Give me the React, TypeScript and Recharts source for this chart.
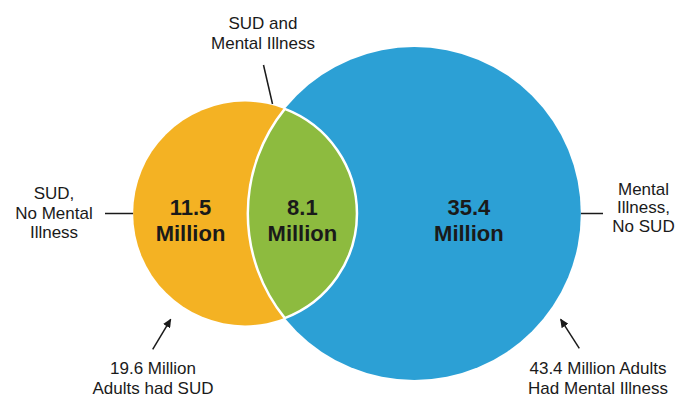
import React from 'react';
import { ScatterChart, Scatter, XAxis, YAxis, ZAxis } from 'recharts';

// ---- data ----
const setNames = ['SUD', 'Mental Illness'];
const setTotals = [19.6, 43.4]; // millions of adults
const regionNames = ['SUD, No Mental Illness', 'SUD and Mental Illness', 'Mental Illness, No SUD'];
const regionValues = [11.5, 8.1, 35.4]; // millions
const regionValueLabels = ['11.5', '8.1', '35.4'];
const regionUnit = 'Million';
const setCaptions = [
  ['19.6 Million', 'Adults had SUD'],
  ['43.4 Million Adults', 'Had Mental Illness'],
];
const regionCaptions = [
  ['SUD,', 'No Mental', 'Illness'],
  ['SUD and', 'Mental Illness'],
  ['Mental', 'Illness,', 'No SUD'],
];

// ---- styles / layout ----
const W = 686;
const H = 400;
const COLORS = { sud: '#F4B223', both: '#8DBB3F', mi: '#2CA0D5' };
const FONT = '"Liberation Sans", Arial, Helvetica, sans-serif';
const TEXT = '#1a1a1a';
const MAX_RADIUS_PX = 166.5; // radius of largest set
const PAIR_CENTER = { x: 357, y: 213.5 };

// geometry derived from values (area-proportional Venn)
const maxTotal = Math.max(...setTotals);
const rOf = (v: number) => MAX_RADIUS_PX * Math.sqrt(v / maxTotal);
const r1 = rOf(setTotals[0]);
const r2 = rOf(setTotals[1]);
function lensArea(a: number, b: number, d: number) {
  if (d >= a + b) return 0;
  if (d <= Math.abs(a - b)) return Math.PI * Math.min(a, b) ** 2;
  const t1 = a * a * Math.acos((d * d + a * a - b * b) / (2 * d * a));
  const t2 = b * b * Math.acos((d * d + b * b - a * a) / (2 * d * b));
  const t3 = 0.5 * Math.sqrt((-d + a + b) * (d + a - b) * (d - a + b) * (d + a + b));
  return t1 + t2 - t3;
}
const targetLens = (regionValues[1] / setTotals[1]) * Math.PI * r2 * r2;
let lo = Math.abs(r1 - r2);
let hi = r1 + r2;
for (let i = 0; i < 80; i++) {
  const mid = (lo + hi) / 2;
  if (lensArea(r1, r2, mid) > targetLens) lo = mid;
  else hi = mid;
}
const dist = (lo + hi) / 2;
const totalWidth = r1 + dist + r2;
const leftEdge = PAIR_CENTER.x - totalWidth / 2;
const c1x = leftEdge + r1;
const c2x = c1x + dist;
const cy = PAIR_CENTER.y;
const chordOffset = (dist * dist + r1 * r1 - r2 * r2) / (2 * dist);
const chordX = c1x + chordOffset;
const chordHalf = Math.sqrt(r1 * r1 - chordOffset * chordOffset);
const lensLeft = c2x - r2;
const lensRight = c1x + r1;

const sudData = [{ x: c1x, y: cy, z: setTotals[0], name: setNames[0] }];
const miData = [{ x: c2x, y: cy, z: setTotals[1], name: setNames[1] }];
const lensData = [{ x: chordX, y: cy, z: regionValues[1], name: regionNames[1] }];
const labelData = [
  { x: (leftEdge + lensLeft) / 2, y: cy, z: regionValues[0], label: regionValueLabels[0] },
  { x: (lensLeft + lensRight) / 2, y: cy, z: regionValues[1], label: regionValueLabels[1] },
  { x: (lensRight + c2x + r2) / 2, y: cy, z: regionValues[2], label: regionValueLabels[2] },
];

const circleShape = (color: string) => (p: any) => (
  <circle cx={p.cx} cy={p.cy} r={p.width / 2} fill={color} />
);

const lensShape = (p: any) => {
  const top = { x: p.cx, y: p.cy - chordHalf };
  const bot = { x: p.cx, y: p.cy + chordHalf };
  const d = `M${top.x},${top.y} A${r1},${r1} 0 0 1 ${bot.x},${bot.y} A${r2},${r2} 0 0 1 ${top.x},${top.y} Z`;
  return <path d={d} fill={COLORS.both} stroke="#ffffff" strokeWidth={2.5} />;
};

const valueLabelShape = (p: any) => (
  <text
    x={p.cx}
    y={p.cy}
    textAnchor="middle"
    fontFamily={FONT}
    fontWeight="bold"
    fontSize={22}
    fill={TEXT}
  >
    <tspan x={p.cx} y={p.cy + 1}>{p.payload.label}</tspan>
    <tspan x={p.cx} y={p.cy + 27.5}>{regionUnit}</tspan>
  </text>
);

const MultiText = ({ x, y, lines, lh }: { x: number; y: number; lines: string[]; lh: number }) => (
  <text textAnchor="middle" fontFamily={FONT} fontSize={17} fill={TEXT}>
    {lines.map((l, i) => (
      <tspan key={i} x={x} y={y + i * lh}>{l}</tspan>
    ))}
  </text>
);

export default function App() {
  return (
    <div style={{ width: W, height: H, background: '#fff' }}>
      <style>{`body{margin:0;background:#fff}`}</style>
      <ScatterChart width={W} height={H} margin={{ top: 0, right: 0, bottom: 0, left: 0 }}>
        <XAxis type="number" dataKey="x" domain={[0, W]} hide height={0} />
        <YAxis type="number" dataKey="y" domain={[0, H]} reversed hide width={0} />
        <ZAxis type="number" dataKey="z" domain={[0, maxTotal]} range={[0, Math.PI * MAX_RADIUS_PX * MAX_RADIUS_PX]} />
        <Scatter data={sudData} shape={circleShape(COLORS.sud)} isAnimationActive={false} />
        <Scatter data={miData} shape={circleShape(COLORS.mi)} isAnimationActive={false} />
        <Scatter data={lensData} shape={lensShape} isAnimationActive={false} />
        <Scatter data={labelData} shape={valueLabelShape} isAnimationActive={false} />
        <defs>
          <marker id="arrowHead" markerWidth="9" markerHeight="8" refX="8" refY="4" orient="auto" markerUnits="userSpaceOnUse">
            <path d="M0,0 L9,4 L0,8 z" fill={TEXT} />
          </marker>
        </defs>
        <g>
          {/* SUD and Mental Illness */}
          <MultiText x={263} y={29} lines={regionCaptions[1]} lh={19.5} />
          <line x1={263.5} y1={65} x2={272.5} y2={104} stroke={TEXT} strokeWidth={1.5} />
          {/* SUD, No Mental Illness */}
          <MultiText x={54} y={199} lines={regionCaptions[0]} lh={19.7} />
          <line x1={105} y1={cy} x2={leftEdge} y2={cy} stroke={TEXT} strokeWidth={1.5} />
          {/* Mental Illness, No SUD */}
          <MultiText x={643.5} y={195} lines={regionCaptions[2]} lh={18.4} />
          <line x1={c2x + r2} y1={cy} x2={603} y2={cy} stroke={TEXT} strokeWidth={1.5} />
          {/* set totals */}
          <MultiText x={153} y={374} lines={setCaptions[0]} lh={19.5} />
          <line x1={152.7} y1={349.3} x2={170.7} y2={319.3} stroke={TEXT} strokeWidth={1.5} markerEnd="url(#arrowHead)" />
          <MultiText x={598} y={374} lines={setCaptions[1]} lh={19.5} />
          <line x1={579.3} y1={348.3} x2={560.7} y2={319.3} stroke={TEXT} strokeWidth={1.5} markerEnd="url(#arrowHead)" />
        </g>
      </ScatterChart>
    </div>
  );
}
